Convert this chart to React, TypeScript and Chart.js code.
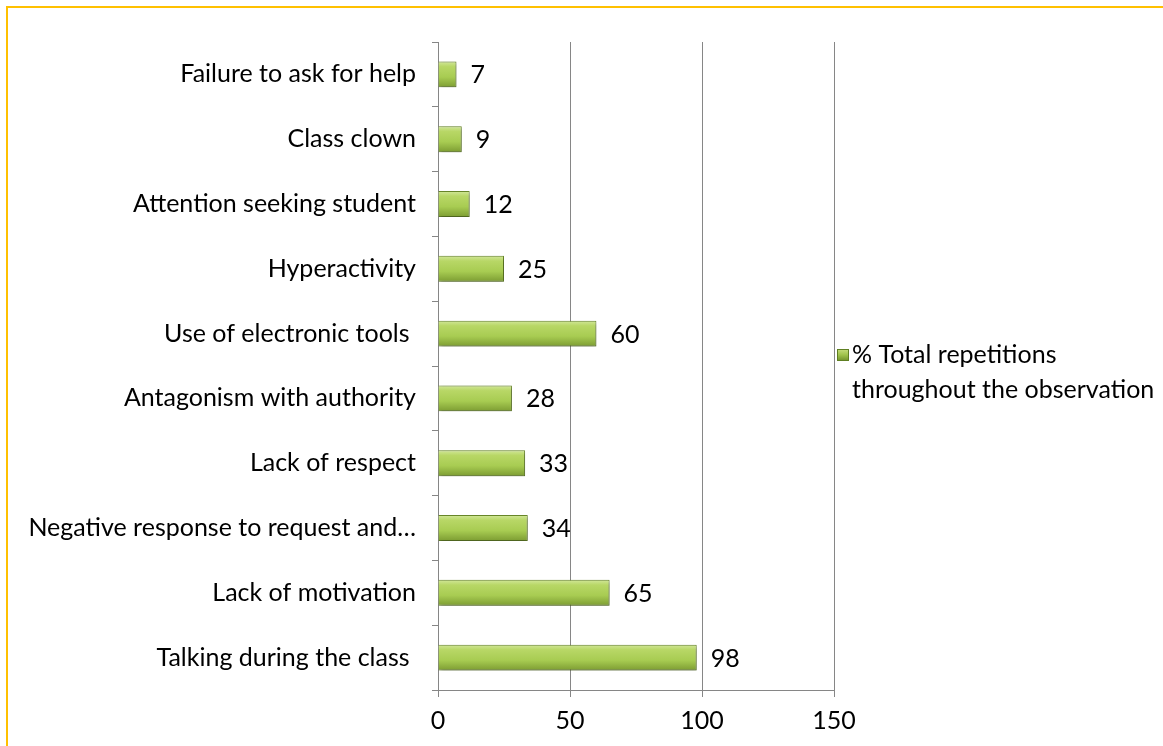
import React, { useEffect, useRef } from "react";
import { Chart, registerables } from "chart.js";

Chart.register(...registerables);

const categories = [
  "Failure to ask for help",
  "Class clown",
  "Attention seeking student",
  "Hyperactivity",
  "Use of electronic tools ",
  "Antagonism with authority",
  "Lack of respect",
  "Negative response to request and…",
  "Lack of motivation",
  "Talking during the class ",
];
const values = [7, 9, 12, 25, 60, 28, 33, 34, 65, 98];
const seriesName = ["% Total repetitions", "throughout the observation"];
const xTicks = [0, 50, 100, 150];

const FONT = "Lato, 'Open Sans', sans-serif";
const FS = 25;
const GRID = "#868686";

export default function App() {
  const ref = useRef<HTMLCanvasElement | null>(null);

  useEffect(() => {
    if (!ref.current) return;
    const shadowPlugin = {
      id: "shadow",
      beforeDatasetsDraw(chart: any) {
        const c = chart.ctx;
        c.save();
        c.shadowColor = "rgba(0,0,0,0.35)";
        c.shadowBlur = 4;
        c.shadowOffsetX = 1;
        c.shadowOffsetY = 2;
      },
      afterDatasetsDraw(chart: any) {
        chart.ctx.restore();
      },
    };
    const labelPlugin = {
      id: "valueLabels",
      afterDatasetsDraw(chart: any) {
        const c = chart.ctx;
        const meta = chart.getDatasetMeta(0);
        c.save();
        c.font = `${FS}px ${FONT}`;
        c.fillStyle = "#000";
        c.textAlign = "left";
        c.textBaseline = "middle";
        meta.data.forEach((el: any, i: number) => {
          c.fillText(String(values[i]), el.x + 14, el.y + 1);
        });
        c.restore();
      },
    };
    const legendPlugin = {
      id: "customLegend",
      afterDraw(chart: any) {
        const c = chart.ctx;
        const x = 837;
        const y = 355;
        c.save();
        const g = c.createLinearGradient(0, y - 6, 0, y + 6);
        g.addColorStop(0, "#c6de7e");
        g.addColorStop(0.5, "#9fc24a");
        g.addColorStop(1, "#6f8f2a");
        c.fillStyle = g;
        c.fillRect(x, y - 6, 12, 12);
        c.strokeStyle = "#5f7f22";
        c.lineWidth = 1;
        c.strokeRect(x + 0.5, y - 5.5, 11, 11);
        c.font = `${FS}px ${FONT}`;
        c.fillStyle = "#000";
        c.textBaseline = "middle";
        c.textAlign = "left";
        c.fillText(seriesName[0], x + 15, y);
        c.fillText(seriesName[1], x + 15, y + 35);
        c.restore();
      },
    };

    const chart = new Chart(ref.current, {
      type: "bar",
      data: {
        labels: categories,
        datasets: [
          {
            label: seriesName.join(" "),
            data: values,
            barPercentage: 0.4,
            categoryPercentage: 1,
            borderWidth: 1,
            borderColor: "#6b8a2a",
            backgroundColor: (ctx: any) => {
              const chart = ctx.chart;
              const ys = chart.scales && chart.scales.y;
              if (!ys || ctx.dataIndex === undefined) return "#a8cc52";
              const cy = ys.getPixelForValue(ctx.dataIndex);
              const step = Math.abs(ys.getPixelForValue(1) - ys.getPixelForValue(0));
              const h = step * 0.4;
              if (!isFinite(cy) || !isFinite(h) || h <= 0) return "#a8cc52";
              const g = chart.ctx.createLinearGradient(0, cy - h / 2, 0, cy + h / 2);
              g.addColorStop(0, "#d2e79a");
              g.addColorStop(0.2, "#b8d766");
              g.addColorStop(0.6, "#a8cc52");
              g.addColorStop(1, "#7c9c32");
              return g;
            },
          },
        ],
      },
      options: {
        indexAxis: "y",
        animation: false,
        responsive: false,
        maintainAspectRatio: false,
        layout: { padding: { top: 42, right: 329, bottom: 0, left: 0 } },
        plugins: {
          legend: { display: false },
          tooltip: { enabled: false },
        },
        scales: {
          x: {
            min: 0,
            max: 150,
            afterBuildTicks: (s: any) => {
              s.ticks = xTicks.map((v) => ({ value: v }));
            },
            afterFit: (s: any) => {
              s.height = 56;
            },
            grid: {
              color: GRID,
              lineWidth: 1,
              drawTicks: true,
              tickLength: 7,
            },
            border: { display: true, color: GRID, width: 1 },
            ticks: {
              color: "#000",
              font: { family: FONT, size: FS },
              padding: 9,
              maxRotation: 0,
            },
          },
          y: {
            afterFit: (s: any) => {
              s.width = 438;
            },
            grid: {
              display: true,
              drawOnChartArea: false,
              drawTicks: true,
              tickLength: 6,
              color: GRID,
              offset: true,
            },
            border: { display: true, color: GRID, width: 1 },
            ticks: {
              color: "#000",
              font: { family: FONT, size: FS },
              padding: 16,
              autoSkip: false,
            },
          },
        },
      },
      plugins: [shadowPlugin, labelPlugin, legendPlugin],
    });
    chart.update();
    return () => chart.destroy();
  }, []);

  return (
    <div
      style={{
        position: "fixed",
        left: 0,
        top: 0,
        width: 1163,
        height: 746,
        background: "#fff",
        overflow: "hidden",
      }}
    >
      <canvas ref={ref} width={1163} height={746} style={{ position: "absolute", left: 0, top: 0 }} />
      <div
        style={{
          position: "absolute",
          left: 6,
          top: 6,
          width: 1200,
          height: 800,
          borderTop: "2px solid #FFC000",
          borderLeft: "2px solid #FFC000",
          pointerEvents: "none",
        }}
      />
    </div>
  );
}
